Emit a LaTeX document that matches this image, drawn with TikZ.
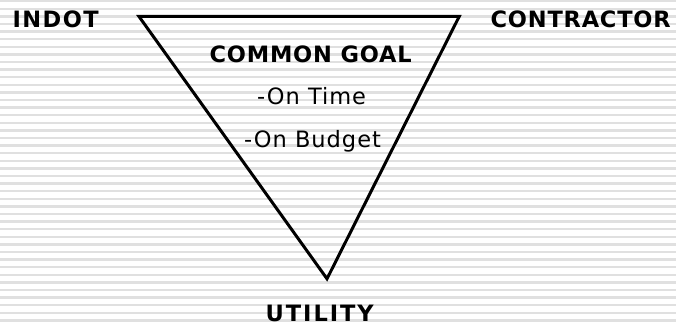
\documentclass[tikz,border=0pt]{standalone}
\usepackage{fontspec}
\setmainfont{DejaVu Sans}
\newfontfamily\lsA[LetterSpace=3.5]{DejaVu Sans}
\newfontfamily\lsB[LetterSpace=6.3]{DejaVu Sans}
\newfontfamily\lsC[LetterSpace=8.7]{DejaVu Sans}
\newfontfamily\lsD[LetterSpace=4.4]{DejaVu Sans}
\newcommand\sz{\fontsize{22.5}{27}\selectfont}
\begin{document}
\begin{tikzpicture}[x=1pt,y=-1pt,
  txt/.style={anchor=base west, inner sep=0pt},
  tri/.style={line width=3pt, line join=miter}]
\useasboundingbox (0,0) rectangle (676,326);
\fill[white] (0,0) rectangle (676,326);
\foreach \i in {0,...,42} {
  \fill[gray!24] (0,{\i*7.6}) rectangle (676,{\i*7.6+2.4});
}
\coordinate (tl) at (139,16.5);
\coordinate (tr) at (459.2,16.5);
\coordinate (bt) at (327,278.8);
\draw[tri] (tl) -- (tr) -- (bt) -- cycle;
\node[txt, font=\lsB\bfseries\sz] (indot) at (12.5,27.3) {INDOT};
\node[txt, font=\lsA\bfseries\sz] (contractor) at (490.5,27.3) {CONTRACTOR};
\node[txt, font=\lsA\bfseries\sz] (goal) at (209.5,63) {COMMON GOAL};
\node[txt, font=\lsD\sz] (time) at (257,104) {-On Time};
\node[txt, font=\lsD\sz] (budget) at (244,147) {-On Budget};
\node[txt, font=\lsC\bfseries\sz] (utility) at (265.5,321.5) {UTILITY};
\end{tikzpicture}
\end{document}
